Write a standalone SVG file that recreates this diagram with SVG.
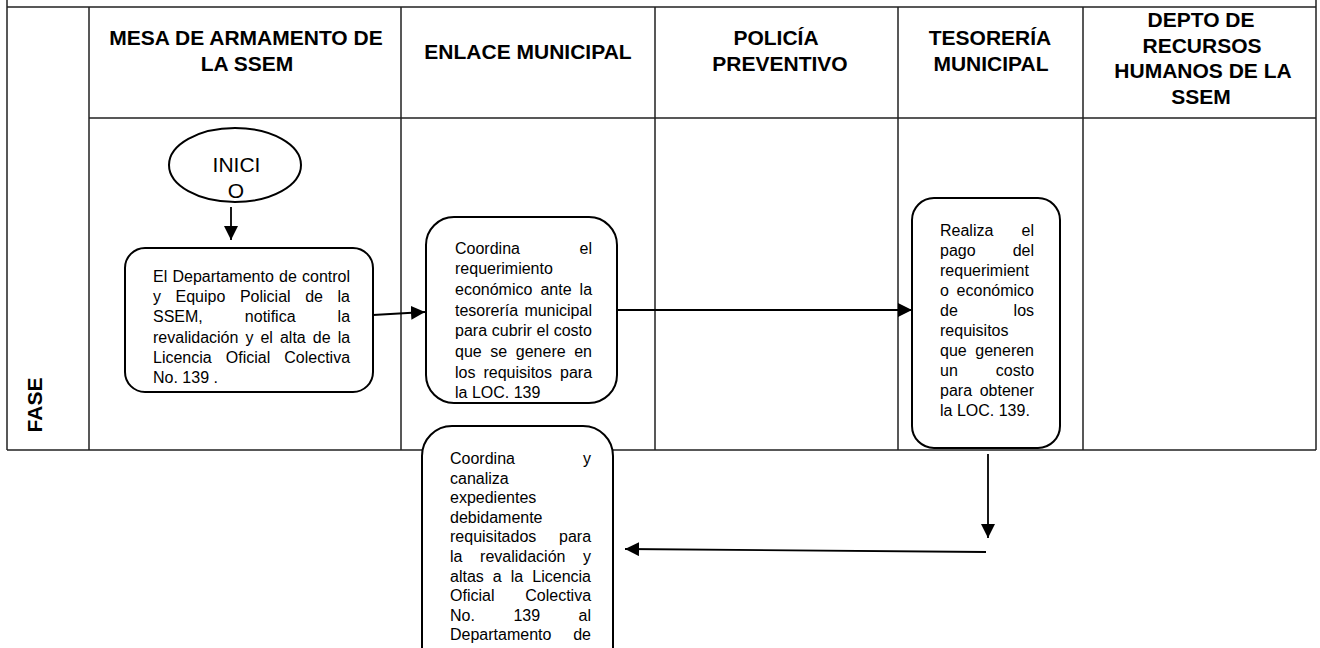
<svg xmlns="http://www.w3.org/2000/svg" width="1320" height="648" viewBox="0 0 1320 648">
<style>
text{font-family:"Liberation Sans",Arial,sans-serif;fill:#000}
.h{font-size:21px;font-weight:bold;text-anchor:middle}
.t{font-size:16px}
.grid{stroke:#222;stroke-width:1.5;fill:none}
.box{fill:#fff;stroke:#000;stroke-width:2}
.con{stroke:#000;stroke-width:1.8;fill:none;marker-end:url(#ah)}
</style>
<defs>
<marker id="ah" markerUnits="userSpaceOnUse" markerWidth="15" markerHeight="14" refX="14" refY="7" orient="auto">
<path d="M0,0 L14,7 L0,14 Z" fill="#000"/>
</marker>
</defs>
<rect width="1320" height="648" fill="#fff"/>
<g id="table">
<path class="grid" d="M7,7 H1316 M89,118 H1316 M7,450 H1316 M7,0 V450 M1316,0 V450 M89,7 V450 M401,7 V450 M655,7 V450 M898,7 V450 M1083,7 V450"/>
<text class="h" x="246" y="45">MESA DE ARMAMENTO DE</text>
<text class="h" x="247" y="71">LA SSEM</text>
<text class="h" x="528" y="59">ENLACE MUNICIPAL</text>
<text class="h" x="776" y="45">POLICÍA</text>
<text class="h" x="780" y="71">PREVENTIVO</text>
<text class="h" x="990" y="45">TESORERÍA</text>
<text class="h" x="991" y="71">MUNICIPAL</text>
<text class="h" x="1201" y="27">DEPTO DE</text>
<text class="h" x="1202" y="52.5">RECURSOS</text>
<text class="h" x="1203" y="78">HUMANOS DE LA</text>
<text class="h" x="1201" y="103.5">SSEM</text>
<text class="h" transform="translate(42,405) rotate(-90)">FASE</text>
</g>
<g id="connectors">
<path class="con" d="M231,207 L231,240"/>
<path class="con" d="M373,315 L425,312"/>
<path class="con" d="M618,310 L912,310"/>
<path class="con" d="M988,454 L988,538"/>
<path class="con" d="M986,552 L625,549"/>
</g>
<g id="inicio">
<ellipse cx="235" cy="165" rx="66" ry="37" fill="#fff" stroke="#000" stroke-width="2"/>
<text x="236.5" y="172" font-size="21" text-anchor="middle">INICI</text>
<text x="236" y="198" font-size="21" text-anchor="middle">O</text>
</g>
<g id="notifica">
<rect class="box" x="125" y="248" width="248" height="144" rx="20"/>
<text class="t" x="153" y="282" word-spacing="0.75">El Departamento de control</text>
<text class="t" x="153" y="302.2" word-spacing="10.1">y Equipo Policial de la</text>
<text class="t" x="153" y="322.4" word-spacing="37.6">SSEM, notifica la</text>
<text class="t" x="153" y="342.6" word-spacing="2.6">revalidación y el alta de la</text>
<text class="t" x="153" y="362.8" word-spacing="9.6">Licencia Oficial Colectiva</text>
<text class="t" x="153" y="383">No. 139 .</text>
</g>
<g id="coordina">
<rect class="box" x="426" y="217" width="191" height="186" rx="28"/>
<text class="t" x="455" y="253.5" word-spacing="55.2">Coordina el</text>
<text class="t" x="455" y="274.2">requerimiento</text>
<text class="t" x="455" y="294.9" word-spacing="3.6">económico ante la</text>
<text class="t" x="455" y="315.6" word-spacing="1.8">tesorería municipal</text>
<text class="t" x="455" y="336.3" word-spacing="0.3">para cubrir el costo</text>
<text class="t" x="455" y="357" word-spacing="4.15">que se genere en</text>
<text class="t" x="455" y="377.7" word-spacing="3.6">los requisitos para</text>
<text class="t" x="455" y="398.4">la LOC. 139</text>
</g>
<g id="realiza">
<rect class="box" x="912" y="198" width="148" height="250" rx="22"/>
<text class="t" x="940" y="235.5" word-spacing="23.8">Realiza el</text>
<text class="t" x="940" y="255.5" word-spacing="32.6">pago del</text>
<text class="t" x="940" y="275.5">requerimient</text>
<text class="t" x="940" y="295.5" word-spacing="3.25">o económico</text>
<text class="t" x="940" y="315.5" word-spacing="51.35">de los</text>
<text class="t" x="940" y="335.5">requisitos</text>
<text class="t" x="940" y="355.5" word-spacing="4.15">que generen</text>
<text class="t" x="940" y="375.5" word-spacing="33.55">un costo</text>
<text class="t" x="940" y="395.5" word-spacing="3.25">para obtener</text>
<text class="t" x="940" y="415.5">la LOC. 139.</text>
</g>
<g id="canaliza">
<rect class="box" x="422" y="426" width="191" height="260" rx="30"/>
<text class="t" x="450" y="464" word-spacing="63.65">Coordina y</text>
<text class="t" x="450" y="483.6">canaliza</text>
<text class="t" x="450" y="503.2">expedientes</text>
<text class="t" x="450" y="522.8">debidamente</text>
<text class="t" x="450" y="542.4" word-spacing="18.3">requisitados para</text>
<text class="t" x="450" y="562" word-spacing="13.15">la revalidación y</text>
<text class="t" x="450" y="581.6" word-spacing="4.6">altas a la Licencia</text>
<text class="t" x="450" y="601.2" word-spacing="26.35">Oficial Colectiva</text>
<text class="t" x="450" y="620.8" word-spacing="34.05">No. 139 al</text>
<text class="t" x="450" y="640.4" word-spacing="17.35">Departamento de</text>
</g>
</svg>
